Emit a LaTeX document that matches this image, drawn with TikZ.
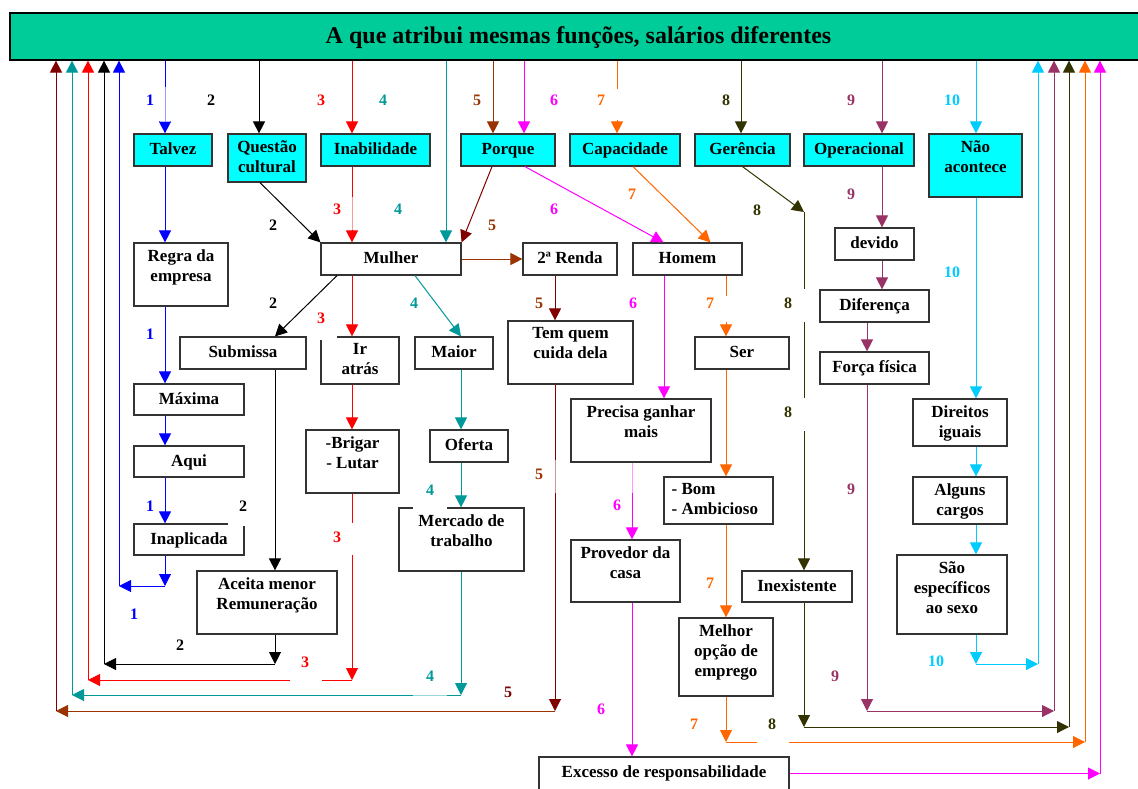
\documentclass[tikz,border=0pt]{standalone}
\usepackage{fontspec}
\setmainfont{Liberation Serif}
\usetikzlibrary{arrows.meta}
\definecolor{bannerc}{HTML}{00CC99}
\definecolor{cyanbox}{HTML}{00FFFF}
\definecolor{boxc}{HTML}{333333}
\definecolor{cA}{HTML}{0000FF}
\definecolor{cB}{HTML}{000000}
\definecolor{cC}{HTML}{FF0000}
\definecolor{cD}{HTML}{009999}
\definecolor{cE}{HTML}{993300}
\definecolor{cEd}{HTML}{800000}
\definecolor{cF}{HTML}{FF00FF}
\definecolor{cG}{HTML}{FF6600}
\definecolor{cH}{HTML}{333300}
\definecolor{cI}{HTML}{993366}
\definecolor{cJ}{HTML}{00CCFF}

% box with corners (x1,y1)-(x2,y2), text set from the top
\newcommand{\bx}[7][]{%
  \node[box,#1,minimum width={(#5-#3)*1pt},minimum height={(#6-#4)*1pt}] (#2) at ({(#3+#5)/2},{(#4+#6)/2}) {};
  \node[txt] (#2-t) at (#2.north) {#7};}

\begin{document}
\begin{tikzpicture}[x=1pt,y=-1pt,
  box/.style={draw=boxc,line width=1.2pt,fill=white,inner sep=0,rectangle},
  cbox/.style={fill=cyanbox},
  txt/.style={anchor=north,yshift=-7pt,inner sep=0,align=center,
    font=\bfseries\fontsize{17}{20}\selectfont,execute at begin node=\strut},
  lab/.style={inner sep=0,font=\bfseries\fontsize{16}{16}\selectfont},
  arr/.style={line width=1pt,-{Triangle[length=12pt,width=12pt]}},
  ln/.style={line width=1pt}]
\useasboundingbox (0,0) rectangle (1138,788);
\fill[white] (0,0) rectangle (1138,788);

% title banner
\node[draw=black,line width=1.2pt,fill=bannerc,inner sep=0,minimum width=1130pt,minimum height=47pt] (banner) at (575,36.5) {};
\node[anchor=base,inner sep=0,font=\bfseries\fontsize{24}{28}\selectfont] (title) at (578.5,43) {A que atribui mesmas funções, salários diferentes};

% first row
\bx[cbox]{talvez}{134}{134}{212}{166}{Talvez}
\bx[cbox]{questao}{228}{134}{306}{182}{Questão\\cultural}
\bx[cbox]{inab}{321}{134}{430}{166}{Inabilidade}
\bx[cbox]{porque}{461}{134}{555}{166}{Porque}
\bx[cbox]{capac}{570}{134}{680}{166}{Capacidade}
\bx[cbox]{gerencia}{695}{134}{790}{166}{Gerência}
\bx[cbox]{operac}{804}{134}{914}{166}{Operacional}
\bx[cbox]{naoac}{929}{134}{1022}{197}{Não\\acontece}

% remaining boxes
\bx{regra}{134}{243}{228}{306}{Regra da\\empresa}
\bx{mulher}{321}{243}{461}{275}{Mulher}
\bx{renda}{523}{243}{617}{275}{2ª Renda}
\bx{homem}{633}{243}{742}{275}{Homem}
\bx{devido}{835}{228}{914}{260}{devido}
\bx{diferenca}{820}{290}{929}{322}{Diferença}
\bx{forca}{820}{352}{929}{384}{Força física}
\bx{submissa}{180}{337}{306}{369}{Submissa}
\bx{iratras}{321}{337}{399}{384}{Ir\\atrás}
\bx{maior}{415}{337}{493}{369}{Maior}
\bx{temquem}{508}{321}{633}{384}{Tem quem\\cuida dela}
\bx{ser}{695}{337}{789}{369}{Ser}
\bx{maxima}{134}{384}{244}{415}{Máxima}
\bx{aqui}{134}{446}{244}{477}{Aqui}
\bx{brigar}{306}{430}{399}{493}{-Brigar\\- Lutar}
\bx{oferta}{430}{430}{508}{462}{Oferta}
\bx{precisa}{571}{399}{711}{462}{Precisa ganhar\\mais}
\bx{direitos}{913}{399}{1007}{446}{Direitos\\iguais}
\node[box,minimum width=109pt,minimum height=47pt] (bom) at (718.5,500.5) {};
\node[txt,anchor=north west,align=left] (bom-t) at ([xshift=8pt]bom.north west) {- Bom\\- Ambicioso};
\bx{alguns}{913}{477}{1007}{524}{Alguns\\cargos}
\bx{inapl}{134}{524}{244}{555}{Inaplicada}
\bx{mercado}{399}{508}{524}{571}{Mercado de\\trabalho}
\bx{provedor}{571}{540}{680}{602}{Provedor da\\casa}
\bx{inexist}{742}{571}{852}{602}{Inexistente}
\bx{saoesp}{897}{555}{1007}{634}{São\\específicos\\ao sexo}
\bx{aceita}{197}{571}{337}{634}{Aceita menor\\Remuneração}
\bx{melhor}{679}{618}{773}{696}{Melhor\\opção de\\emprego}
\bx{excesso}{539}{757}{789}{790}{Excesso de responsabilidade}

% line columns
\coordinate (k1) at (165,0);  \coordinate (r1) at (119,0);
\coordinate (k2) at (259,0);  \coordinate (k2b) at (275,0); \coordinate (r2) at (104,0);
\coordinate (k3) at (352,0);  \coordinate (r3) at (88,0);
\coordinate (k4) at (446,0);  \coordinate (k4b) at (461,0); \coordinate (r4) at (72,0);
\coordinate (k5) at (493,0);  \coordinate (k5b) at (555,0); \coordinate (r5) at (56,0);
\coordinate (k6) at (524,0);  \coordinate (k6b) at (664,0); \coordinate (k6c) at (632,0); \coordinate (r6) at (1100,0);
\coordinate (k7) at (617,0);  \coordinate (k7b) at (726,0); \coordinate (r7) at (1085,0);
\coordinate (k8) at (741,0);  \coordinate (k8b) at (804,0); \coordinate (r8) at (1069,0);
\coordinate (k9) at (882,0);  \coordinate (k9b) at (867,0); \coordinate (r9) at (1054,0);
\coordinate (k10) at (976,0); \coordinate (r10) at (1038,0);
% return corners
\coordinate (b1) at (165,586);
\coordinate (b2) at (275,664);
\coordinate (b3) at (352,680);
\coordinate (b4) at (461,695);
\coordinate (b5) at (555,711);
\coordinate (b7) at (726,742);
\coordinate (b8) at (804,727);
\coordinate (b9) at (867,711);
\coordinate (b10) at (976,664);
\coordinate (g8) at (804,212);
\coordinate (g7) at (617,120);

% 1
\draw[arr,cA] (banner.south -| k1) -- (talvez.north -| k1);
\draw[arr,cA] (talvez.south -| k1) -- (regra.north -| k1);
\draw[arr,cA] (regra.south -| k1) -- (maxima.north -| k1);
\draw[arr,cA] (maxima.south -| k1) -- (aqui.north -| k1);
\draw[arr,cA] (aqui.south -| k1) -- (inapl.north -| k1);
\draw[arr,cA] (inapl.south -| k1) -- (b1);
\draw[arr,cA] (b1) -- (b1 -| r1);
\draw[arr,cA] (b1 -| r1) -- (banner.south -| r1);
% 2
\draw[arr,cB] (banner.south -| k2) -- (questao.north -| k2);
\draw[arr,cB] ([xshift=-7pt]questao.south) -- (mulher.north west);
\draw[arr,cB] ([xshift=-54pt]mulher.south) -- (submissa.north -| k2b);
\draw[arr,cB] (submissa.south -| k2b) -- (aceita.north -| k2b);
\draw[arr,cB] (aceita.south -| k2b) -- (b2);
\draw[arr,cB] (b2) -- (b2 -| r2);
\draw[arr,cB] (b2 -| r2) -- (banner.south -| r2);
% 3
\draw[arr,cC] (banner.south -| k3) -- (inab.north -| k3);
\draw[arr,cC] (inab.south -| k3) -- (mulher.north -| k3);
\draw[arr,cC] (mulher.south -| k3) -- (iratras.north -| k3);
\draw[arr,cC] (iratras.south -| k3) -- (brigar.north -| k3);
\draw[arr,cC] (brigar.south -| k3) -- (b3);
\draw[arr,cC] (b3) -- (b3 -| r3);
\draw[arr,cC] (b3 -| r3) -- (banner.south -| r3);
% 4
\draw[arr,cD] (banner.south -| k4) -- (mulher.north -| k4);
\draw[arr,cD] ([xshift=24pt]mulher.south) -- (maior.north -| k4b);
\draw[arr,cD] (maior.south -| k4b) -- (oferta.north -| k4b);
\draw[arr,cD] (oferta.south -| k4b) -- (mercado.north -| k4b);
\draw[arr,cD] (mercado.south -| k4b) -- (b4);
\draw[arr,cD] (b4) -- (b4 -| r4);
\draw[arr,cD] (b4 -| r4) -- (banner.south -| r4);
% 5
\draw[arr,cE] (banner.south -| k5) -- (porque.north -| k5);
\draw[arr,cEd] ([xshift=-16pt]porque.south) -- (mulher.north east);
\draw[arr,cE] (mulher.east) -- (renda.west);
\draw[arr,cEd] (renda.south -| k5b) -- (temquem.north -| k5b);
\draw[arr,cEd] (temquem.south -| k5b) -- (b5);
\draw[arr,cE] (b5) -- (b5 -| r5);
\draw[arr,cEd] (b5 -| r5) -- (banner.south -| r5);
% 6
\draw[arr,cF] (banner.south -| k6) -- (porque.north -| k6);
\draw[arr,cF] ([xshift=17pt]porque.south) -- ([xshift=-24pt]homem.north);
\draw[arr,cF] (homem.south -| k6b) -- (precisa.north -| k6b);
\draw[arr,cF] (precisa.south -| k6c) -- (provedor.north -| k6c);
\draw[arr,cF] (provedor.south -| k6c) -- (excesso.north -| k6c);
\draw[arr,cF] (excesso.east) -- (excesso.east -| r6);
\draw[arr,cF] (excesso.east -| r6) -- (banner.south -| r6);
% 7 (the banner line breaks above its arrowhead)
\draw[ln,cG] (banner.south -| k7) -- ++(0,28);
\draw[arr,cG] (g7) -- (capac.north -| k7);
\draw[arr,cG] ([xshift=8pt]capac.south) -- ([xshift=23pt]homem.north);
\draw[arr,cG] (homem.south -| k7b) -- (ser.north -| k7b);
\draw[arr,cG] (ser.south -| k7b) -- (bom.north -| k7b);
\draw[arr,cG] (bom.south -| k7b) -- (melhor.north -| k7b);
\draw[arr,cG] (melhor.south -| k7b) -- (b7);
\draw[arr,cG] (b7) -- (b7 -| r7);
\draw[arr,cG] (b7 -| r7) -- (banner.south -| r7);
% 8
\draw[arr,cH] (banner.south -| k8) -- (gerencia.north -| k8);
\draw[arr,cH] (gerencia.south) -- (g8);
\draw[arr,cH] (g8) -- (inexist.north -| k8b);
\draw[arr,cH] (inexist.south -| k8b) -- (b8);
\draw[arr,cH] (b8) -- (b8 -| r8);
\draw[arr,cH] (b8 -| r8) -- (banner.south -| r8);
% 9
\draw[arr,cI] (banner.south -| k9) -- (operac.north -| k9);
\draw[arr,cI] (operac.south -| k9) -- (devido.north -| k9);
\draw[arr,cI] (devido.south -| k9) -- (diferenca.north -| k9);
\draw[arr,cI] (diferenca.south -| k9b) -- (forca.north -| k9b);
\draw[arr,cI] (forca.south -| k9b) -- (b9);
\draw[arr,cI] (b9) -- (b9 -| r9);
\draw[arr,cI] (b9 -| r9) -- (banner.south -| r9);
% 10
\draw[arr,cJ] (banner.south -| k10) -- (naoac.north -| k10);
\draw[arr,cJ] (naoac.south -| k10) -- (direitos.north -| k10);
\draw[arr,cJ] (direitos.south -| k10) -- (alguns.north -| k10);
\draw[arr,cJ] (alguns.south -| k10) -- (saoesp.north -| k10);
\draw[arr,cJ] (saoesp.south -| k10) -- (b10);
\draw[arr,cJ] (b10) -- (b10 -| r10);
\draw[arr,cJ] (b10 -| r10) -- (banner.south -| r10);

% blank strips behind the number labels
\fill[white] (716,296) rectangle (736,322);
\fill[white] (794,289) rectangle (814,322);
\fill[white] (794,398) rectangle (814,431);
\fill[white] (342,523) rectangle (362,555);
\fill[white] (290,670) rectangle (322,690);
\fill[white] (757,732) rectangle (789,752);
\fill[white] (228,512) rectangle (246,526);
\fill[white] (413,500) rectangle (447,509.5);
\fill[white] (319,328) rectangle (337,339.5);
\fill[white,opacity=0.6] (160,87) rectangle (170,122);
\fill[white,opacity=0.6] (347,197) rectangle (357,230);
\fill[white,opacity=0.6] (550,460) rectangle (560,493);
\fill[white,opacity=0.6] (627,462.8) rectangle (637,493);
\fill[white,opacity=0.6] (413,690) rectangle (447,700);

% number labels
\node[lab,cA] (n1a) at (150,100) {1};
\node[lab,cA] (n1b) at (150,334) {1};
\node[lab,cA] (n1c) at (150,506) {1};
\node[lab,cA] (n1d) at (134,614) {1};
\node[lab,cB] (n2a) at (211,100) {2};
\node[lab,cB] (n2b) at (273,225) {2};
\node[lab,cB] (n2c) at (273,303) {2};
\node[lab,cB] (n2d) at (243,506) {2};
\node[lab,cB] (n2e) at (180,645) {2};
\node[lab,cC] (n3a) at (321,100) {3};
\node[lab,cC] (n3b) at (337,209) {3};
\node[lab,cC] (n3c) at (321,318) {3};
\node[lab,cC] (n3d) at (337,537) {3};
\node[lab,cC] (n3e) at (305,662) {3};
\node[lab,cD] (n4a) at (383,100) {4};
\node[lab,cD] (n4b) at (398,209) {4};
\node[lab,cD] (n4c) at (414,303) {4};
\node[lab,cD] (n4d) at (430,490) {4};
\node[lab,cD] (n4e) at (430,676) {4};
\node[lab,cE] (n5a) at (477,100) {5};
\node[lab,cE] (n5b) at (492,225) {5};
\node[lab,cE] (n5c) at (539,303) {5};
\node[lab,cE] (n5d) at (539,474) {5};
\node[lab,cEd] (n5e) at (508,692) {5};
\node[lab,cF] (n6a) at (554,100) {6};
\node[lab,cF] (n6b) at (554,209) {6};
\node[lab,cF] (n6c) at (633,303) {6};
\node[lab,cF] (n6d) at (617,505) {6};
\node[lab,cF] (n6e) at (601,709) {6};
\node[lab,cG] (n7a) at (601,100) {7};
\node[lab,cG] (n7b) at (632,194) {7};
\node[lab,cG] (n7c) at (710,303) {7};
\node[lab,cG] (n7d) at (710,583) {7};
\node[lab,cG] (n7e) at (694,724) {7};
\node[lab,cH] (n8a) at (726,100) {8};
\node[lab,cH] (n8b) at (757,210) {8};
\node[lab,cH] (n8c) at (788,303) {8};
\node[lab,cH] (n8d) at (788,412) {8};
\node[lab,cH] (n8e) at (772,724) {8};
\node[lab,cI] (n9a) at (851,100) {9};
\node[lab,cI] (n9b) at (851,194) {9};
\node[lab,cI] (n9c) at (851,489) {9};
\node[lab,cI] (n9d) at (835,676) {9};
\node[lab,cJ] (n10a) at (952,100) {10};
\node[lab,cJ] (n10b) at (952,272) {10};
\node[lab,cJ] (n10c) at (936,661) {10};
\end{tikzpicture}
\end{document}
